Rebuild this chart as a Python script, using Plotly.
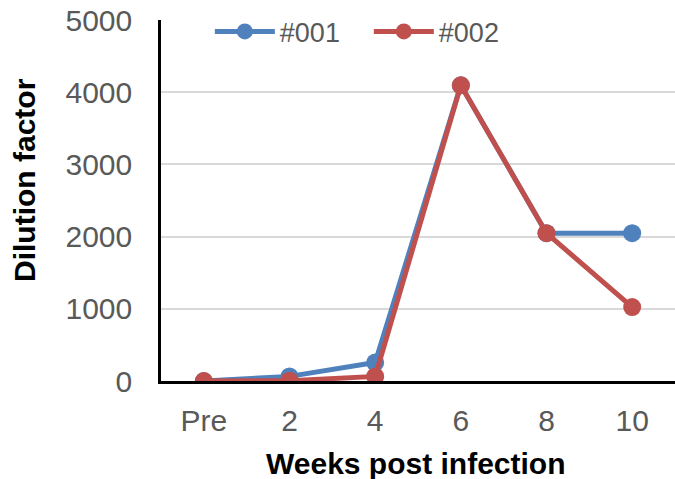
import plotly.graph_objects as go

categories = ["Pre", "2", "4", "6", "8", "10"]
s001 = [0, 64, 256, 4096, 2048, 2048]
s002 = [0, 4, 64, 4096, 2048, 1024]
yticks = [0, 1000, 2000, 3000, 4000, 5000]

blue = "#4F81BD"
red = "#C0504D"
font = "Liberation Sans, Arial, sans-serif"

fig = go.Figure()
fig.add_trace(go.Scatter(x=categories, y=s001, name="#001", mode="lines+markers",
                         line=dict(color=blue, width=5), marker=dict(size=18, color=blue)))
fig.add_trace(go.Scatter(x=categories, y=s002, name="#002", mode="lines+markers",
                         line=dict(color=red, width=5), marker=dict(size=18, color=red)))

fig.update_layout(
    width=675, height=479,
    margin=dict(l=161, r=0, t=20, b=98),
    plot_bgcolor="white", paper_bgcolor="white",
    font=dict(family=font, color="#595959"),
    showlegend=True,
    legend=dict(orientation="h", x=0.095, y=1.035, xanchor="left", yanchor="top",
                bgcolor="rgba(0,0,0,0)", font=dict(size=27, color="#595959"),
                itemwidth=60, entrywidth=84, traceorder="normal"),
    xaxis=dict(type="category", range=[-0.5, 5.5], showline=True, linecolor="black", linewidth=2.5,
               showgrid=False, tickfont=dict(size=30, color="#595959"), ticks="", ticklabelstandoff=11),
    yaxis=dict(range=[0, 5000], tickvals=yticks, showline=True, linecolor="black", linewidth=2.5,
               showgrid=True, gridcolor="#D9D9D9", gridwidth=1.5, zeroline=False,
               tickfont=dict(size=30, color="#595959"), ticks="", ticklabelstandoff=20),
    annotations=[
        dict(text="<b>Dilution factor</b>", xref="paper", yref="paper", x=-161/514 + 24/514, y=(381-180)/361,
             xanchor="center", yanchor="middle", textangle=-90, showarrow=False,
             font=dict(size=30, color="black")),
        dict(text="<b>Weeks post infection</b>", xref="paper", yref="paper", x=(416-161)/514, y=-(463-381)/361,
             xanchor="center", yanchor="middle", showarrow=False,
             font=dict(size=30, color="black")),
    ],
)
fig.write_html("out.html")
